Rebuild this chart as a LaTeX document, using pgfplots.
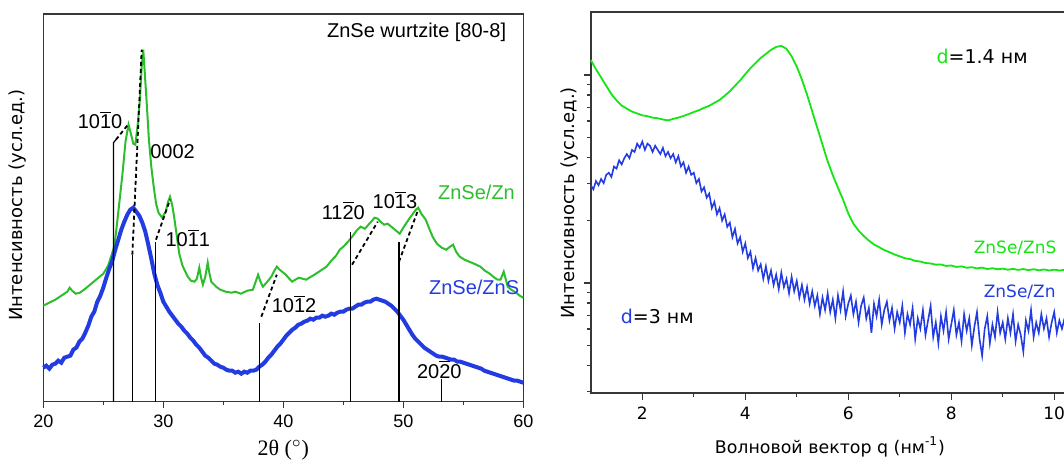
\documentclass[border=0pt]{standalone}
\usepackage{pgfplots}
\pgfplotsset{compat=1.18}
\usepackage{fontspec}
\setmainfont{Liberation Sans}
\newfontfamily\dejavu{DejaVu Sans}
\newfontfamily\lserif{Liberation Serif}
\definecolor{zgreen}{RGB}{45,190,45}
\definecolor{lime}{RGB}{20,230,20}
\definecolor{zblue}{RGB}{35,60,225}
\definecolor{axgray}{RGB}{55,55,55}
\newcommand{\ob}[1]{$\overline{\mbox{#1}}$}

\begin{document}
\begin{tikzpicture}[x=1pt,y=1pt]
% ---------- left: XRD ----------
\begin{axis}[
  at={(21.65pt,31.15pt)}, anchor=south west, scale only axis,
  width=240pt, height=193.85pt,
  xmin=20, xmax=60, ymin=0, ymax=387.7,
  xtick={20,30,...,60}, minor xtick={25,35,45,55},
  ytick=\empty, xtick pos=bottom,
  tick align=outside, major tick length=3pt, minor tick length=1.5pt,
  axis line style={axgray, line width=0.75pt},
  tick style={axgray, line width=0.7pt},
  /pgf/number format/assume math mode=true,
  ticklabel style={font=\fontsize{9}{10}\selectfont},
  xlabel={\lserif\fontsize{11}{12}\selectfont 2θ ($^{\circ}$)},
  xlabel style={at={(axis description cs:0.5,-0.1246)}, anchor=center},
  ylabel={\dejavu\fontsize{9}{10}\selectfont Интенсивность (усл.ед.)},
  ylabel style={at={(axis description cs:-0.0527,0.507)}, anchor=center},
  clip=false,
]
\addplot[zgreen, line width=1pt] coordinates {
(20.00,96) (20.5,99) (21.0,102) (21.5,106) (22.0,110) (22.2,114) (22.4,111) (22.7,108)
(23.05,109) (23.5,113) (24.0,118) (24.5,123) (25.0,128) (25.4,136) (25.7,147) (25.9,155)
(26.05,168) (26.3,195) (26.6,228) (26.85,260) (27.1,277) (27.3,268) (27.5,258) (27.67,257)
(27.85,275) (28.05,302) (28.2,335) (28.33,352) (28.45,330) (28.6,302) (28.8,262) (29.0,235)
(29.2,215) (29.4,198) (29.6,189) (29.9,184) (30.2,190) (30.4,200) (30.56,205) (30.75,196)
(30.9,185) (31.1,168) (31.33,148) (31.6,136) (32.04,125) (32.3,121) (32.6,120) (32.8,123)
(33.0,134) (33.15,124) (33.3,117) (33.5,125) (33.7,139) (33.85,128) (34.0,120) (34.4,115)
(34.75,112) (35.2,110) (35.7,109) (36.0,110) (36.46,108) (37.0,111) (37.46,112) (37.7,120)
(37.9,127) (38.1,120) (38.3,115) (38.6,119) (39.0,125) (39.25,131) (39.46,135) (39.7,132)
(40.0,129) (40.2,127) (40.5,123) (40.74,120) (41.0,122) (41.3,124) (41.6,123) (41.9,122)
(42.17,124) (42.6,127) (43.1,131) (43.6,135) (44.0,141) (44.4,146) (44.7,152) (45.0,155)
(45.4,160) (45.8,166) (46.1,171) (46.45,175) (46.8,173) (47.1,177) (47.4,181) (47.6,184)
(47.87,183) (48.1,180) (48.4,177) (48.7,178) (49.0,175) (49.3,172) (49.5,170) (49.7,168)
(50.0,174) (50.44,182) (50.8,188) (51.05,192) (51.24,194) (51.5,188) (51.87,182) (52.1,175)
(52.44,165) (52.8,158) (53.2,154) (53.58,152) (53.9,155) (54.15,157) (54.4,150) (54.7,145)
(55.1,142) (55.5,140) (55.9,138) (56.43,135) (56.8,131) (57.2,128) (57.6,124) (57.86,122)
(58.1,122) (58.37,130) (58.55,122) (58.7,115) (59.0,112) (59.4,109) (59.7,106) (60.0,104)
};
\addplot[zblue, line width=2pt] coordinates {
(20.00,34) (20.25,36) (20.50,33) (20.75,37) (21.00,38) (21.25,41) (21.50,39) (21.75,44)
(22.00,45) (22.25,46) (22.50,52) (22.75,54) (23.00,60) (23.25,63) (23.50,69) (23.75,76)
(24.00,85) (24.25,90) (24.50,100) (24.75,106) (25.00,114) (25.25,124) (25.50,133) (25.75,141)
(26.00,152) (26.25,162) (26.50,172) (26.75,180) (27.00,187) (27.25,192) (27.50,194) (27.75,190)
(28.00,186) (28.25,179) (28.50,170) (28.75,157) (29.00,143) (29.25,128) (29.50,117) (29.75,109)
(30.00,100) (30.25,95) (30.50,90) (30.75,86) (31.00,82) (31.25,78) (31.50,75) (31.75,71)
(32.00,68) (32.25,64) (32.50,61) (32.75,57) (33.00,54) (33.25,50) (33.50,46) (33.75,44)
(34.00,41) (34.25,38) (34.50,37) (34.75,35) (35.00,34) (35.25,32) (35.50,31) (35.75,31)
(36.00,29) (36.25,30) (36.50,28) (36.75,30) (37.00,29) (37.25,31) (37.50,31) (37.75,32)
(38.00,35) (38.25,37) (38.50,40) (38.75,44) (39.00,47) (39.25,51) (39.50,55) (39.75,58)
(40.00,62) (40.25,66) (40.50,69) (40.75,72) (41.00,74) (41.25,77) (41.50,78) (41.75,80)
(42.00,81) (42.25,83) (42.50,82) (42.75,84) (43.00,84) (43.25,86) (43.50,85) (43.75,86)
(44.00,88) (44.25,87) (44.50,89) (44.75,90) (45.00,90) (45.25,92) (45.50,93) (45.75,93)
(46.00,95) (46.25,97) (46.50,97) (46.75,99) (47.00,100) (47.25,100) (47.50,102) (47.75,103)
(48.00,102) (48.25,101) (48.50,100) (48.75,98) (49.00,96) (49.25,93) (49.50,90) (49.75,86)
(50.00,82) (50.25,77) (50.50,72) (50.75,67) (51.00,63) (51.25,60) (51.50,57) (51.75,54)
(52.00,52) (52.25,50) (52.50,48) (52.75,46) (53.00,45) (53.25,45) (53.50,44) (53.75,43)
(54.00,42) (54.25,42) (54.50,40) (54.75,40) (55.00,39) (55.25,38) (55.50,37) (55.75,36)
(56.00,35) (56.25,34) (56.50,33) (56.75,31) (57.00,30) (57.25,29) (57.50,28) (57.75,27)
(58.00,26) (58.25,25) (58.50,24) (58.75,23) (59.00,22) (59.25,21) (59.50,21) (59.75,20)
(60.00,19)
};
% reference sticks (wurtzite ZnSe)
\addplot[black, line width=0.6pt] coordinates {(25.85,0) (25.85,259) (26.05,262)};
\addplot[black, line width=0.6pt] coordinates {(27.42,0) (27.42,147)};
\addplot[black, line width=0.6pt] coordinates {(29.33,0) (29.33,160)};
\addplot[black, line width=0.6pt] coordinates {(38.03,0) (38.03,79)};
\addplot[black, line width=0.6pt] coordinates {(45.59,0) (45.59,170)};
\addplot[black, line width=0.6pt] coordinates {(49.64,0) (49.64,160)};
\addplot[black, line width=0.6pt] coordinates {(53.15,0) (53.15,23)};
\addplot[black, line width=0.9pt, dash pattern=on 2pt off 1.5pt] coordinates {(26.05,262) (27.05,277)};
\addplot[black, line width=0.9pt, dash pattern=on 2pt off 1.5pt] coordinates {(27.42,147) (28.2,352)};
\addplot[black, line width=0.9pt, dash pattern=on 2pt off 1.5pt] coordinates {(29.39,162) (30.56,202)};
\addplot[black, line width=0.9pt, dash pattern=on 2pt off 1.5pt] coordinates {(38.17,85) (39.46,127)};
\addplot[black, line width=0.9pt, dash pattern=on 2pt off 1.5pt] coordinates {(45.73,137) (47.87,180)};
\addplot[black, line width=0.9pt, dash pattern=on 2pt off 1.5pt] coordinates {(49.64,140) (51.24,192)};
\begin{scope}[every node/.style={font=\fontsize{10}{12}\selectfont, inner sep=0pt}]
\node at (axis cs:24.73,282) {10\ob{1}0};
\node at (axis cs:30.77,250) {0002};
\node at (axis cs:32.04,164) {10\ob{1}1};
\node at (axis cs:40.9,98) {10\ob{1}2};
\node at (axis cs:45.0,191) {11\ob{2}0};
\node at (axis cs:49.3,202) {10\ob{1}3};
\node at (axis cs:53.0,32) {20\ob{2}0};
\node[anchor=east] at (axis cs:58.6,369) {ZnSe wurtzite [80-8]};
\node[text=zgreen] at (axis cs:56.1,209) {ZnSe/Zn};
\node[text=zblue] at (axis cs:55.9,114) {ZnSe/ZnS};
\end{scope}
\end{axis}

% ---------- right: SAXS ----------
\begin{axis}[
  at={(295.4pt,35.5pt)}, anchor=south west, scale only axis,
  width=242pt, height=190.5pt,
  xmin=1, xmax=10.4, ymin=-0.529, ymax=1.303,
  xtick={2,4,6,8,10}, minor xtick={3,5,7,9},
  ytick={0,1}, yticklabels={{},{}},
  minor ytick={-0.523,-0.398,-0.301,-0.222,-0.155,-0.097,-0.046,0.301,0.477,0.602,0.699,0.778,0.845,0.903,0.954},
  xtick pos=bottom, ytick pos=left,
  tick align=outside, major tick length=3.5pt, minor tick length=2pt,
  axis line style={axgray, line width=0.75pt},
  tick style={axgray, line width=0.7pt},
  /pgf/number format/assume math mode=true,
  xticklabel style={font=\dejavu\fontsize{8.5}{10}\selectfont},
  xlabel={\dejavu\fontsize{8.7}{10}\selectfont Волновой вектор q (нм\textsuperscript{-1})},
  xlabel style={at={(axis description cs:0.494,-0.1417)}, anchor=center},
  ylabel={\dejavu\fontsize{9}{10}\selectfont Интенсивность (усл.ед.)},
  ylabel style={at={(axis description cs:-0.0434,0.499)}, anchor=center},
  clip=false,
]
\addplot[lime, line width=0.9pt] coordinates {
(1.0,1.072) (1.1,1.028) (1.2,0.988) (1.3,0.948) (1.4,0.908) (1.5,0.878) (1.6,0.853) (1.7,0.838)
(1.8,0.824) (1.9,0.815) (2.0,0.806) (2.1,0.802) (2.2,0.795) (2.3,0.792) (2.4,0.786) (2.5,0.782)
(2.6,0.789) (2.7,0.795) (2.8,0.803) (2.9,0.812) (3.0,0.822) (3.1,0.831) (3.2,0.842) (3.3,0.852)
(3.4,0.866) (3.5,0.880) (3.6,0.900) (3.7,0.922) (3.8,0.948) (3.9,0.974) (4.0,1.004) (4.1,1.033)
(4.2,1.058) (4.3,1.082) (4.4,1.101) (4.5,1.121) (4.6,1.135) (4.7,1.140) (4.8,1.126) (4.9,1.090)
(5.0,1.040) (5.1,0.978) (5.2,0.905) (5.3,0.825) (5.4,0.745) (5.5,0.665) (5.6,0.585) (5.7,0.518)
(5.8,0.458) (5.9,0.400) (6.0,0.335) (6.1,0.285) (6.2,0.252) (6.3,0.226) (6.4,0.204) (6.5,0.185)
(6.6,0.172) (6.7,0.158) (6.8,0.148) (6.9,0.137) (7.0,0.128) (7.1,0.119) (7.2,0.115) (7.3,0.106)
(7.4,0.103) (7.5,0.096) (7.6,0.094) (7.7,0.088) (7.8,0.089) (7.9,0.082) (8.0,0.084) (8.1,0.077)
(8.2,0.080) (8.3,0.073) (8.4,0.076) (8.5,0.070) (8.6,0.074) (8.7,0.067) (8.8,0.071) (8.9,0.066)
(9.0,0.069) (9.1,0.064) (9.2,0.068) (9.3,0.063) (9.4,0.067) (9.5,0.062) (9.6,0.066) (9.7,0.061)
(9.8,0.065) (9.9,0.060) (10.0,0.064) (10.1,0.060) (10.2,0.063)
};
\addplot[zblue, line width=0.8pt] coordinates {
(1.00,.47) (1.05,.45) (1.10,.49) (1.15,.47) (1.20,.50) (1.25,.48) (1.30,.52) (1.35,.53)
(1.40,.51) (1.45,.56) (1.50,.55) (1.55,.59) (1.60,.57) (1.65,.60) (1.70,.62) (1.75,.60)
(1.80,.64) (1.85,.63) (1.90,.67) (1.95,.65) (2.00,.68) (2.05,.64) (2.10,.67) (2.15,.66)
(2.20,.63) (2.25,.66) (2.30,.64) (2.35,.62) (2.40,.65) (2.45,.61) (2.50,.63) (2.55,.60)
(2.60,.62) (2.65,.58) (2.70,.61) (2.75,.56) (2.80,.58) (2.85,.53) (2.90,.56) (2.95,.52)
(3.00,.53) (3.05,.48) (3.10,.50) (3.15,.44) (3.20,.46) (3.25,.41) (3.30,.43) (3.35,.36)
(3.40,.39) (3.45,.33) (3.50,.36) (3.55,.30) (3.60,.33) (3.65,.27) (3.70,.29) (3.75,.22)
(3.80,.26) (3.85,.19) (3.90,.22) (3.95,.15) (4.00,.19) (4.05,.12) (4.10,.15) (4.15,.07)
(4.20,.12) (4.25,.06) (4.30,.09) (4.35,.02) (4.40,.08) (4.45,.01) (4.50,.06) (4.55,-.01)
(4.60,.04) (4.65,-.03) (4.70,.05) (4.75,-.02) (4.80,.02) (4.85,-.05) (4.90,.03) (4.95,-.04)
(5.00,.01) (5.05,-.07) (5.10,-.01) (5.15,-.08) (5.20,-.02) (5.25,-.10) (5.30,-.04) (5.35,-.11)
(5.40,-.06) (5.45,-.15) (5.50,-.07) (5.55,-.13) (5.60,-.05) (5.65,-.14) (5.70,-.08) (5.75,-.17)
(5.80,-.06) (5.85,-.13) (5.90,-.04) (5.95,-.16) (6.00,-.10) (6.05,-.06) (6.10,-.15) (6.15,-.09)
(6.20,-.19) (6.25,-.11) (6.30,-.07) (6.35,-.17) (6.40,-.12) (6.45,-.24) (6.50,-.10) (6.55,-.16)
(6.60,-.08) (6.65,-.20) (6.70,-.13) (6.75,-.09) (6.80,-.18) (6.85,-.12) (6.90,-.22) (6.95,-.14)
(7.00,-.19) (7.05,-.11) (7.10,-.24) (7.15,-.15) (7.20,-.20) (7.25,-.12) (7.30,-.27) (7.35,-.17)
(7.40,-.22) (7.45,-.13) (7.50,-.25) (7.55,-.18) (7.60,-.11) (7.65,-.26) (7.70,-.19) (7.75,-.29)
(7.80,-.16) (7.85,-.23) (7.90,-.14) (7.95,-.27) (8.00,-.20) (8.05,-.13) (8.10,-.25) (8.15,-.19)
(8.20,-.28) (8.25,-.15) (8.30,-.23) (8.35,-.17) (8.40,-.30) (8.45,-.21) (8.50,-.14) (8.55,-.27)
(8.60,-.35) (8.65,-.22) (8.70,-.16) (8.75,-.29) (8.80,-.20) (8.85,-.26) (8.90,-.14) (8.95,-.24)
(9.00,-.19) (9.05,-.27) (9.10,-.17) (9.15,-.24) (9.20,-.15) (9.25,-.28) (9.30,-.20) (9.35,-.25)
(9.40,-.33) (9.45,-.18) (9.50,-.23) (9.55,-.13) (9.60,-.26) (9.65,-.19) (9.70,-.24) (9.75,-.15)
(9.80,-.22) (9.85,-.17) (9.90,-.26) (9.95,-.19) (10.00,-.14) (10.05,-.24) (10.10,-.18) (10.15,-.22)
(10.20,-.17)
};
\begin{scope}[every node/.style={font=\dejavu\fontsize{9.5}{11}\selectfont, inner sep=0pt}]
\node at (axis cs:8.60,1.087) {\textcolor{lime}{d}=1.4 нм};
\node at (axis cs:2.29,-0.163) {\textcolor{zblue}{d}=3 нм};
\node[text=lime, font=\dejavu\fontsize{8.5}{10}\selectfont] at (axis cs:9.24,0.168) {ZnSe/ZnS};
\node[text=zblue, font=\dejavu\fontsize{8.5}{10}\selectfont] at (axis cs:9.33,-0.043) {ZnSe/Zn};
\end{scope}
\end{axis}
\pgfresetboundingbox
\useasboundingbox (0,0) rectangle (532,232);
\end{tikzpicture}
\end{document}
